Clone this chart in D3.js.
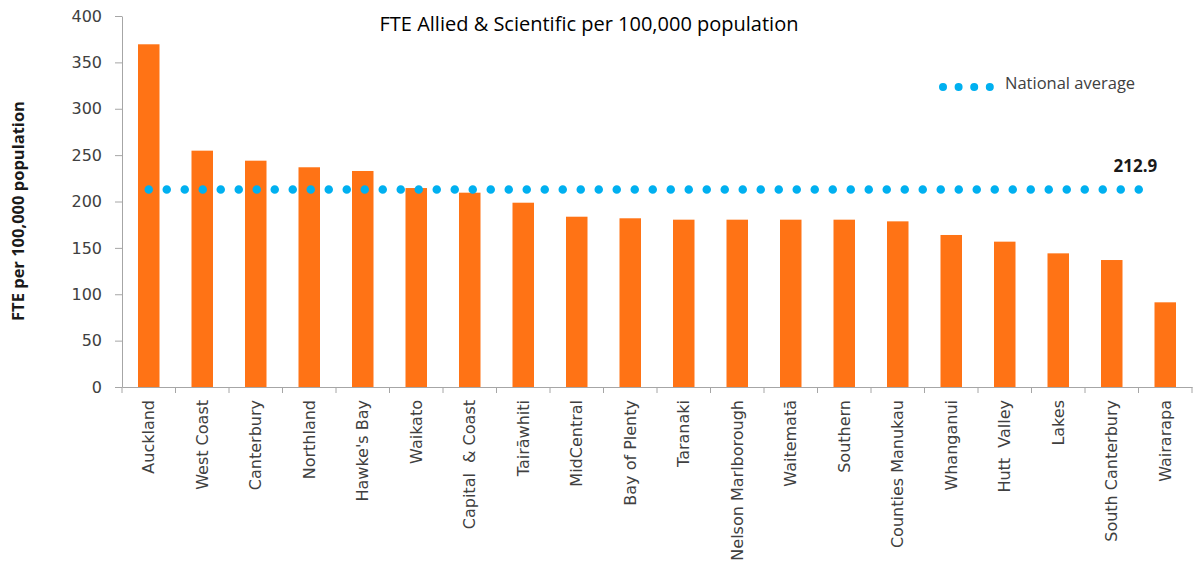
<!DOCTYPE html>
<html>
<head>
<meta charset="utf-8">
<script src="https://cdn.jsdelivr.net/npm/d3@7"></script>
<style>
  body { margin: 0; background: #fff; }
  svg { display: block; }
  .axis path, .axis line { stroke: #a6a6a6; }
  .axis text { fill: #404040; font-family: 'DejaVu Sans', sans-serif; font-size: 16px; white-space: pre; }
</style>
</head>
<body>
<div id="grafico"></div>
<script>
// Datos
regiones = ['Auckland', 'West Coast', 'Canterbury', 'Northland', "Hawke's Bay", 'Waikato',
  'Capital  & Coast', 'Tairāwhiti', 'MidCentral', 'Bay of Plenty', 'Taranaki',
  'Nelson Marlborough', 'Waitematā', 'Southern', 'Counties Manukau', 'Whanganui',
  'Hutt  Valley', 'Lakes', 'South Canterbury', 'Wairarapa']
valores = [369.5, 254.8, 244, 236.9, 232.9, 214.5, 209.5, 198.7, 183.6, 181.9, 180.4,
  180.4, 180.4, 180.4, 178.6, 163.9, 156.7, 144.1, 136.9, 91.3]
promedio = 212.9
yTicks = [0, 50, 100, 150, 200, 250, 300, 350, 400]

anchototal = 1195
altototal = 575
margin = { top: 16, left: 122, right: 3, bottom: 188 }
ancho = anchototal - margin.left - margin.right
alto = altototal - margin.top - margin.bottom

svg = d3.select('#grafico')
  .append('svg')
  .attr('width', anchototal)
  .attr('height', altototal)

g = svg.append('g')
  .attr('transform', `translate(${margin.left}, ${margin.top})`)

xBand = d3.scaleBand().domain(regiones).range([0, ancho])
y = d3.scaleLinear().domain([0, 400]).range([alto, 0])
anchoBarra = 21.5

// Ejes
g.append('g')
  .attr('class', 'axis')
  .call(d3.axisLeft(y).tickValues(yTicks).tickSize(7).tickPadding(13).tickSizeOuter(0))

xAxis = g.append('g')
  .attr('class', 'axis')
  .attr('transform', `translate(0, ${alto})`)
  .call(d3.axisBottom(xBand).tickSize(0).tickSizeOuter(0))
xAxis.selectAll('.tick text')
  .attr('transform', 'rotate(-90)')
  .attr('text-anchor', 'end')
  .attr('x', -13)
  .attr('y', 0)
  .attr('dy', '0.35em')
// marcas entre categorias
g.append('g')
  .attr('class', 'axis')
  .selectAll('line')
  .data(d3.range(regiones.length + 1))
  .enter()
  .append('line')
  .attr('x1', i => i * xBand.step())
  .attr('x2', i => i * xBand.step())
  .attr('y1', alto)
  .attr('y2', alto + 6)

// Barras
g.selectAll('.barra')
  .data(regiones)
  .enter()
  .append('rect')
  .attr('class', 'barra')
  .attr('x', d => xBand(d) + (xBand.bandwidth() - anchoBarra) / 2)
  .attr('width', anchoBarra)
  .attr('y', (d, i) => y(valores[i]))
  .attr('height', (d, i) => alto - y(valores[i]))
  .attr('fill', '#ff7315')

// Promedio nacional
xc = d => xBand(d) + xBand.bandwidth() / 2
g.append('line')
  .attr('x1', xc(regiones[0]))
  .attr('x2', xc(regiones[regiones.length - 1]) - 9)
  .attr('y1', y(promedio))
  .attr('y2', y(promedio))
  .attr('stroke', '#00b0f0')
  .attr('stroke-width', 8.5)
  .attr('stroke-linecap', 'round')
  .attr('stroke-dasharray', '0 18')

g.append('text')
  .attr('x', xc(regiones[regiones.length - 1]) - 8)
  .attr('y', y(promedio) - 18)
  .attr('text-anchor', 'end')
  .attr('font-family', 'Open Sans, sans-serif')
  .attr('font-weight', 'bold')
  .attr('font-size', 17)
  .attr('fill', '#1a1a1a')
  .text(d3.format('.1f')(promedio))

// Leyenda
leyenda = svg.append('g').attr('transform', 'translate(943, 87)')
leyenda.append('line')
  .attr('x1', 0).attr('x2', 48)
  .attr('stroke', '#00b0f0')
  .attr('stroke-width', 8)
  .attr('stroke-linecap', 'round')
  .attr('stroke-dasharray', '0 15.6')
leyenda.append('text')
  .attr('x', 62)
  .attr('y', 0)
  .attr('dy', '0.1em')
  .attr('font-family', 'Open Sans, sans-serif')
  .attr('font-size', 16.5)
  .attr('fill', '#404040')
  .text('National average')

// Titulos
svg.append('text')
  .attr('x', 589)
  .attr('y', 31)
  .attr('text-anchor', 'middle')
  .attr('font-family', 'Open Sans, sans-serif')
  .attr('font-size', 20)
  .attr('fill', '#000')
  .text('FTE Allied & Scientific per 100,000 population')

svg.append('text')
  .attr('transform', 'translate(24, 211) rotate(-90)')
  .attr('text-anchor', 'middle')
  .attr('font-family', 'Open Sans, sans-serif')
  .attr('font-weight', 'bold')
  .attr('font-size', 16.5)
  .attr('fill', '#1a1a1a')
  .text('FTE per 100,000 population')
</script>
</body>
</html>
